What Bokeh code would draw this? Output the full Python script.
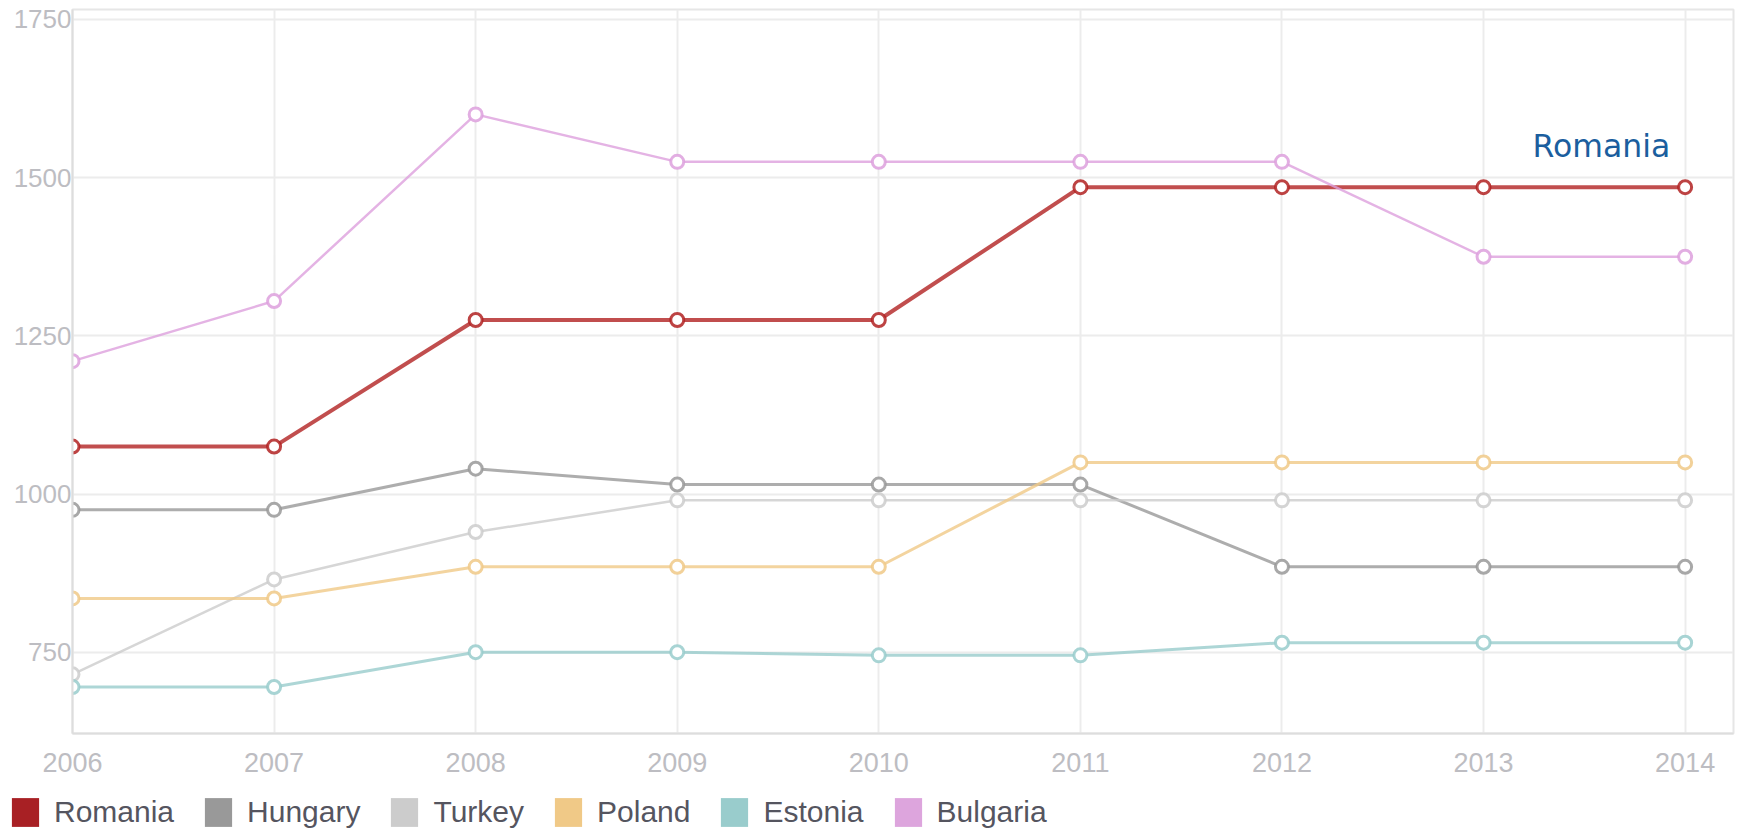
from bokeh.plotting import figure
from bokeh.layouts import column, row
from bokeh.models import Range1d, FixedTicker, Legend, LegendItem, Label
from bokeh.embed import file_html
from bokeh.resources import INLINE

years = [2006, 2007, 2008, 2009, 2010, 2011, 2012, 2013, 2014]
romania = [1075, 1075, 1275, 1275, 1275, 1485, 1485, 1485, 1485]
hungary = [975, 975, 1040, 1015, 1015, 1015, 885, 885, 885]
turkey = [715, 865, 940, 990, 990, 990, 990, 990, 990]
poland = [835, 835, 885, 885, 885, 1050, 1050, 1050, 1050]
estonia = [695, 695, 750, 750, 745, 745, 765, 765, 765]
bulgaria = [1210, 1305, 1600, 1525, 1525, 1525, 1525, 1375, 1375]
y_ticks = [750, 1000, 1250, 1500, 1750]

series_names = ["Romania", "Hungary", "Turkey", "Poland", "Estonia", "Bulgaria"]
series_values = [romania, hungary, turkey, poland, estonia, bulgaria]
line_colors = ["#b22222", "#999999", "#cccccc", "#f0c987", "#99cccc", "#dda0dd"]
swatch_colors = ["#a82024", "#999999", "#cccccc", "#f0c987", "#99cccc", "#dda5dd"]
line_widths = [4, 3, 2.5, 3, 3, 2.5]

p = figure(width=1735, height=794, output_backend="svg", toolbar_location=None,
           x_range=Range1d(2006, 2014.24), y_range=Range1d(621.5, 1765.8))
p.min_border_left = 72
p.min_border_right = 2
p.min_border_top = 9
p.min_border_bottom = 61
p.background_fill_color = "white"
p.border_fill_color = "white"
p.outline_line_color = "#e6e6e6"
p.outline_line_width = 2

p.xaxis.ticker = FixedTicker(ticks=years)
p.yaxis.ticker = FixedTicker(ticks=y_ticks)
for ax in (p.xaxis, p.yaxis):
    ax.major_tick_line_color = None
    ax.minor_tick_line_color = None
    ax.axis_line_color = "#dddddd"
    ax.axis_line_width = 2
    ax.major_label_text_color = "#bdbdc2"
    ax.major_label_text_font = "Liberation Sans"
p.xaxis.major_label_text_font_size = "27px"
p.yaxis.major_label_text_font_size = "26px"
p.xaxis.major_label_standoff = 13
p.yaxis.major_label_standoff = -5

p.xgrid.grid_line_color = "#ececec"
p.ygrid.grid_line_color = "#ececec"
p.xgrid.grid_line_width = 2
p.ygrid.grid_line_width = 2

lf = figure(width=1735, height=36, output_backend="svg", toolbar_location=None,
            x_range=Range1d(0, 1), y_range=Range1d(0, 1),
            x_axis_location=None, y_axis_location=None)
lf.grid.visible = False
lf.outline_line_color = None
lf.min_border_left = 0
lf.min_border_right = 0
lf.min_border_top = 0
lf.min_border_bottom = 0

nan = float("nan")
items = []
for name, vals, lc, sc, lw in zip(series_names, series_values, line_colors, swatch_colors, line_widths):
    p.line(years, vals, line_color=lc, line_width=lw, line_alpha=0.8)
    p.scatter(years, vals, marker="circle", size=13, fill_color="white",
              line_color=lc, line_width=3, line_alpha=0.85)
    dummy = lf.quad(left=[nan], right=[nan], top=[nan], bottom=[nan], fill_color=sc, line_color=None)
    items.append(LegendItem(label=name, renderers=[dummy]))

legend = Legend(items=items, orientation="horizontal", location=(8, 0),
                glyph_width=34, glyph_height=36, label_standoff=12, spacing=27,
                padding=0, margin=0, border_line_color=None, background_fill_alpha=0,
                label_text_font="Liberation Sans", label_text_font_size="30px",
                label_text_color="#55555f", label_height=36)
lf.add_layout(legend, "center")

p.add_layout(Label(x=2013.243, y=1550, text="Romania", text_font="DejaVu Sans",
                   text_font_size="31.5px", text_color="#1b5e9e", text_baseline="alphabetic"))

open("out.html", "w").write(file_html(column(p, row(lf)), INLINE))
